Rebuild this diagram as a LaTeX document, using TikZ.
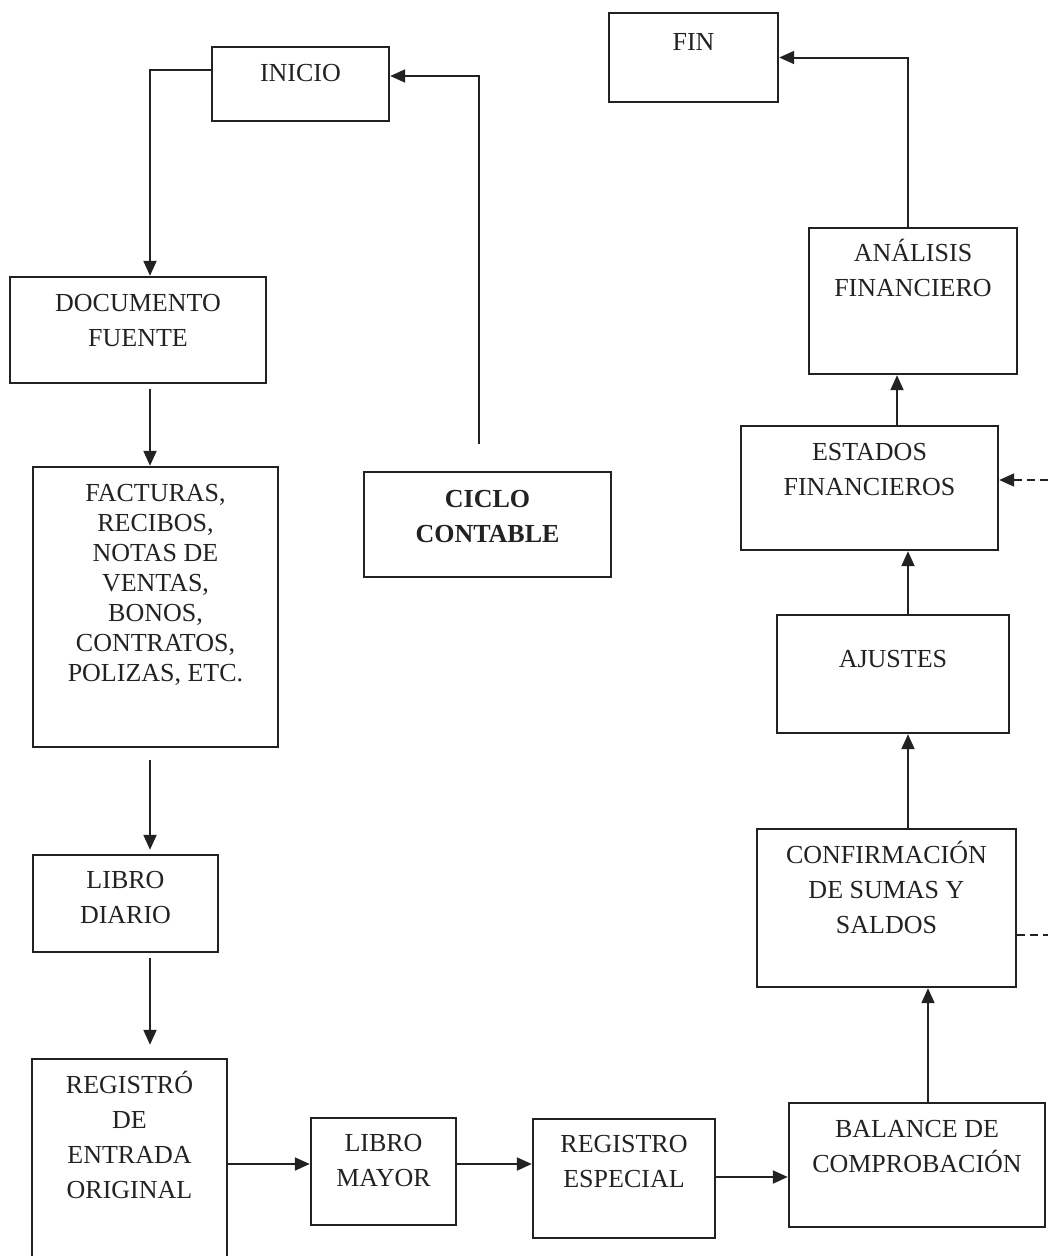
\documentclass[tikz,border=0pt]{standalone}
\usepackage{fontspec}
\setmainfont{Liberation Serif}
\usetikzlibrary{arrows.meta,positioning}
\definecolor{ink}{HTML}{222222}
\tikzset{
  box/.style={draw=ink, line width=2.4pt, inner sep=0pt},
  txt/.style={text=ink, font=\fontsize{26}{35}\selectfont, align=center, inner sep=0pt},
  link/.style={draw=ink, line width=2pt},
  flow/.style={link, -{Triangle[length=15pt,width=13pt]}},
  gaps/.style={dash pattern=on 8pt off 5pt},
}
\begin{document}
\begin{tikzpicture}[x=1pt, y=-1pt]
\useasboundingbox (0,0) rectangle (1048,1256);
% boxes
\node[box, minimum width=177, minimum height=74] (inicio) at (300.5,84) {};
\node[box, minimum width=169, minimum height=89] (fin) at (693.5,57.5) {};
\node[box, minimum width=256, minimum height=106] (doc) at (138,330) {};
\node[box, minimum width=245, minimum height=280] (facturas) at (155.5,607) {};
\node[box, minimum width=247, minimum height=105] (ciclo) at (487.5,524.5) {};
\node[box, minimum width=185, minimum height=97] (diario) at (125.5,903.5) {};
\node[box, minimum width=195, minimum height=216] (registro) at (129.5,1167) {};
\node[box, minimum width=145, minimum height=107] (mayor) at (383.5,1171.5) {};
\node[box, minimum width=182, minimum height=119] (especial) at (624,1178.5) {};
\node[box, minimum width=256, minimum height=124] (balance) at (917,1165) {};
\node[box, minimum width=259, minimum height=158] (confirm) at (886.5,908) {};
\node[box, minimum width=232, minimum height=118] (ajustes) at (893,674) {};
\node[box, minimum width=257, minimum height=124] (estados) at (869.5,488) {};
\node[box, minimum width=208, minimum height=146] (analisis) at (913,301) {};
% texts
\node[txt, below=18pt of inicio.north] (inicio-t) {INICIO};
\node[txt, below=21pt of fin.north] (fin-t) {FIN};
\node[txt, below=18pt of doc.north] (doc-t) {DOCUMENTO\\FUENTE};
\node[txt, font=\fontsize{26}{30}\selectfont, below=18pt of facturas.north] (facturas-t)
  {FACTURAS,\\RECIBOS,\\NOTAS DE\\VENTAS,\\BONOS,\\CONTRATOS,\\POLIZAS, ETC.};
\node[txt, font=\fontsize{26}{35}\selectfont\bfseries, below=19pt of ciclo.north] (ciclo-t) {CICLO\\CONTABLE};
\node[txt, below=17pt of diario.north] (diario-t) {LIBRO\\DIARIO};
\node[txt, below=17pt of mayor.north] (mayor-t) {LIBRO\\MAYOR};
\node[txt, below=17pt of especial.north] (especial-t) {REGISTRO\\ESPECIAL};
\node[txt, below=18pt of balance.north] (balance-t) {BALANCE DE\\COMPROBACIÓN};
\node[txt, below=13pt of registro.north] (registro-t) {REGISTRÓ\\DE\\ENTRADA\\ORIGINAL};
\node[txt, below=13pt of confirm.north] (confirm-t) {CONFIRMACIÓN\\DE SUMAS Y\\SALDOS};
\node[txt, below=36pt of ajustes.north] (ajustes-t) {AJUSTES};
\node[txt, below=18pt of estados.north] (estados-t) {ESTADOS\\FINANCIEROS};
\node[txt, below=12pt of analisis.north] (analisis-t) {ANÁLISIS\\FINANCIERO};
% columns and rows of the connectors
\coordinate (xl) at (150,0);
\coordinate (xc) at (479,0);
\coordinate (xr) at (908,0);
\coordinate (xb) at (928,0);
\coordinate (xe) at (897,0);
\coordinate (rowA) at (0,1164);
\coordinate (rowB) at (0,1177);
\coordinate (edgeA) at (1048,480);
\coordinate (edgeB) at (1048,935);
% left column
\draw[flow] ([yshift=14pt]inicio.west) -| (doc.north -| xl);
\draw[flow, shorten <=5pt] (doc.south -| xl) -- (facturas.north -| xl);
\draw[flow, shorten <=12pt, shorten >=4pt] (facturas.south -| xl) -- (diario.north -| xl);
\draw[flow, shorten <=5pt, shorten >=13pt] (diario.south -| xl) -- (registro.north -| xl);
% bottom row
\draw[flow] (registro.east |- rowA) -- (mayor.west |- rowA);
\draw[flow] (mayor.east |- rowA) -- (especial.west |- rowA);
\draw[flow] (especial.east |- rowB) -- (balance.west |- rowB);
% right column
\draw[flow] (balance.north -| xb) -- (confirm.south -| xb);
\draw[flow] (confirm.north -| xr) -- (ajustes.south -| xr);
\draw[flow] (ajustes.north -| xr) -- (estados.south -| xr);
\draw[flow] (estados.north -| xe) -- (analisis.south -| xe);
\draw[flow] (analisis.north -| xr) |- (fin.east);
% back to the start
\draw[flow, shorten <=27pt] (ciclo.north -| xc) |- ([yshift=8pt]inicio.east);
% dashed ends
\draw[flow, gaps] (edgeA) -- (estados.east |- edgeA);
\draw[link, gaps] (confirm.east |- edgeB) -- (edgeB);
\end{tikzpicture}
\end{document}
